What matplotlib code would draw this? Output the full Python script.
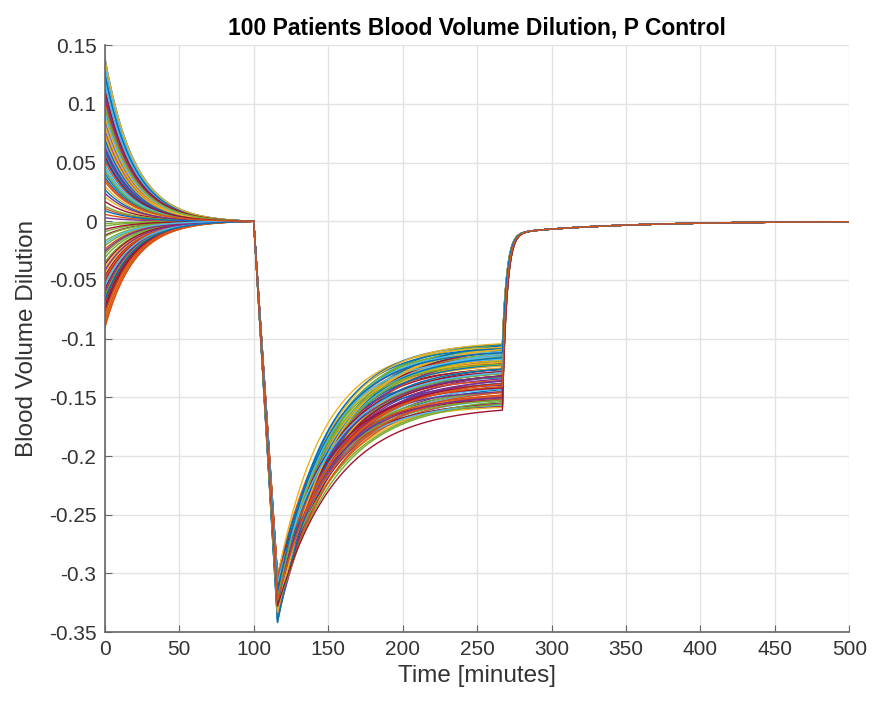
import matplotlib
matplotlib.use("Agg")
import matplotlib.pyplot as plt
import numpy as np

plt.rcParams['font.family'] = ['Liberation Sans', 'DejaVu Sans']
plt.rcParams['axes.unicode_minus'] = False

# per-patient values
# dilution at t=0
start = [
    0.140, -0.091, 0.021, 0.105, -0.054, 0.067, -0.012, 0.128, -0.078, 0.046,
    0.003, -0.035, 0.092, -0.066, 0.118, 0.034, -0.083, 0.075, -0.021, 0.058,
    -0.047, 0.134, 0.011, -0.070, 0.099, -0.004, 0.083, -0.058, 0.041, 0.124,
    -0.088, 0.062, -0.028, 0.109, 0.017, -0.074, 0.051, -0.040, 0.087, -0.009,
    0.137, -0.062, 0.027, 0.071, -0.081, 0.114, -0.017, 0.045, -0.051, 0.096,
    0.006, -0.086, 0.079, -0.031, 0.121, -0.068, 0.038, 0.102, -0.044, 0.064,
    -0.002, 0.131, -0.076, 0.054, -0.024, 0.089, -0.059, 0.013, 0.116, -0.037,
    0.070, -0.090, 0.030, 0.107, -0.013, 0.048, -0.072, 0.126, -0.049, 0.081,
    0.024, -0.064, 0.094, -0.007, 0.060, -0.080, 0.139, -0.026, 0.043, -0.055,
    0.112, 0.009, -0.085, 0.074, -0.042, 0.098, -0.019, 0.056, -0.067, 0.036,
]
# lowest point, reached at t=116
trough = [
    -0.342, -0.318, -0.327, -0.305, -0.331, -0.314, -0.322, -0.336, -0.309, -0.325,
    -0.312, -0.329, -0.303, -0.320, -0.334, -0.316, -0.307, -0.324, -0.338, -0.311,
    -0.326, -0.301, -0.319, -0.332, -0.313, -0.323, -0.308, -0.330, -0.317, -0.335,
    -0.306, -0.321, -0.328, -0.310, -0.333, -0.315, -0.302, -0.324, -0.339, -0.312,
    -0.320, -0.327, -0.304, -0.331, -0.318, -0.309, -0.325, -0.336, -0.314, -0.322,
    -0.307, -0.329, -0.316, -0.340, -0.311, -0.323, -0.305, -0.330, -0.319, -0.313,
    -0.326, -0.308, -0.334, -0.317, -0.321, -0.303, -0.328, -0.315, -0.337, -0.310,
    -0.324, -0.306, -0.332, -0.318, -0.312, -0.327, -0.304, -0.320, -0.335, -0.314,
    -0.322, -0.309, -0.329, -0.316, -0.341, -0.311, -0.325, -0.307, -0.331, -0.319,
    -0.313, -0.326, -0.302, -0.333, -0.317, -0.321, -0.308, -0.328, -0.315, -0.323,
]
# level reached just before t=267
plateau = [
    -0.104, -0.141, -0.118, -0.152, -0.110, -0.133, -0.125, -0.107, -0.146, -0.121,
    -0.137, -0.113, -0.155, -0.128, -0.102, -0.144, -0.116, -0.131, -0.108, -0.149,
    -0.123, -0.139, -0.111, -0.157, -0.126, -0.105, -0.142, -0.119, -0.135, -0.114,
    -0.150, -0.129, -0.103, -0.145, -0.122, -0.138, -0.109, -0.153, -0.127, -0.117,
    -0.140, -0.106, -0.132, -0.148, -0.120, -0.112, -0.143, -0.124, -0.156, -0.101,
    -0.134, -0.115, -0.147, -0.130, -0.108, -0.151, -0.119, -0.136, -0.104, -0.144,
    -0.127, -0.110, -0.154, -0.122, -0.139, -0.106, -0.133, -0.149, -0.114, -0.128,
    -0.103, -0.146, -0.121, -0.137, -0.111, -0.155, -0.125, -0.107, -0.142, -0.118,
    -0.131, -0.150, -0.109, -0.135, -0.123, -0.145, -0.102, -0.129, -0.152, -0.116,
    -0.140, -0.113, -0.134, -0.105, -0.148, -0.120, -0.126, -0.157, -0.110, -0.138,
]
# recovery time constant after the trough [minutes]
recovery = [
    36, 40, 33, 38, 35, 42, 31, 37, 39, 34,
    41, 32, 36, 38, 35, 40, 33, 37, 31, 39,
    34, 42, 36, 32, 38, 35, 40, 33, 37, 39,
    31, 36, 34, 41, 38, 32, 35, 37, 40, 33,
    36, 39, 31, 38, 34, 42, 35, 37, 32, 40,
    33, 36, 38, 34, 41, 31, 37, 35, 39, 32,
    36, 40, 33, 38, 35, 31, 37, 42, 34, 39,
    32, 36, 38, 35, 40, 33, 37, 31, 39, 34,
    41, 36, 32, 38, 35, 40, 33, 37, 39, 31,
    34, 36, 42, 38, 35, 32, 37, 40, 33, 36,
]

t = np.linspace(0, 500, 2001)
colors = ['#0072BD', '#D95319', '#EDB120', '#7E2F8E', '#77AC30', '#4DBEEE', '#A2142F']


def patient_curve(v0, low, plat, tau):
    y = np.zeros_like(t)
    # phase 1: settle to zero by t=100
    m = t <= 100
    k = np.exp(-100 / 20.0)
    y[m] = v0 * (np.exp(-t[m] / 20.0) - k) / (1 - k)
    # phase 2: linear drop to trough
    m = (t > 100) & (t <= 116)
    y[m] = low * (t[m] - 100) / 16.0
    # phase 3: recovery toward plateau
    m = (t > 116) & (t <= 267)
    y[m] = plat + (low - plat) * np.exp(-(t[m] - 116) / tau)
    # phase 4: fast return then slow tail
    m = t > 267
    tail = -0.0095 * np.exp(-(t[m] - 275) / 70.0)
    y0 = y[t <= 267][-1]
    c0 = -0.0095 * np.exp(-(267 - 275) / 70.0)
    y[m] = tail + (y0 - c0) * np.exp(-(t[m] - 267) / 3.0)
    return y


fig = plt.figure(figsize=(8.73, 7.07), dpi=100)
ax = fig.add_axes([0.120, 0.106, 0.853, 0.830])

for i in range(len(start)):
    ax.plot(t, patient_curve(start[i], trough[i], plateau[i], recovery[i]),
            color=colors[i % len(colors)], lw=1.0)

yt = np.arange(-0.35, 0.151, 0.05)
ax.set_xlim(0, 500)
ax.set_ylim(-0.35, 0.15)
ax.set_xticks(np.arange(0, 501, 50))
ax.set_yticks(yt)
ax.set_yticklabels(['%g' % (round(v, 2) + 0.0) for v in yt])
ax.grid(True, color='#e3e3e3', lw=1.0)
ax.set_axisbelow(True)
for s in ['top', 'right']:
    ax.spines[s].set_visible(False)
for s in ['left', 'bottom']:
    ax.spines[s].set_color('#666666')
    ax.spines[s].set_linewidth(1.2)
ax.tick_params(direction='in', length=5, labelsize=15, colors='#666666',
               labelcolor='#333333', pad=6)

ax.set_xlabel('Time [minutes]', fontsize=17.5, color='#333333', labelpad=4)
ax.set_ylabel('Blood Volume Dilution', fontsize=17.5, color='#333333', labelpad=8)
ax.set_title('100 Patients Blood Volume Dilution, P Control', fontsize=16.5,
             fontweight='bold', pad=8)

fig.savefig('out.png', dpi=100)
